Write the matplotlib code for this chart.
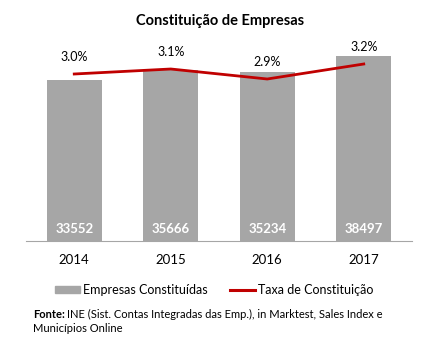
import matplotlib
matplotlib.use("Agg")
import matplotlib.pyplot as plt
from matplotlib.patches import Patch
from matplotlib.lines import Line2D

years = ["2014", "2015", "2016", "2017"]
empresas = [33552, 35666, 35234, 38497]
taxa = [3.0, 3.1, 2.9, 3.2]
taxa_labels = ["3.0%", "3.1%", "2.9%", "3.2%"]

plt.rcParams['font.family'] = ['Lato', 'DejaVu Sans']

W, H = 439, 342
fig = plt.figure(figsize=(W/100, H/100), dpi=100)
ax = fig.add_axes([26/W, (H-241)/H, 386/W, 201/H])
x = list(range(len(years)))
ax.bar(x, empresas, width=0.57, color="#A6A6A6", zorder=2)
ax.set_xlim(-0.5, 3.5)
ax.set_ylim(0, 201*33552/161)
for s in ["top", "right", "left"]:
    ax.spines[s].set_visible(False)
ax.spines["bottom"].set_color("#A6A6A6")
ax.set_yticks([])
ax.set_xticks(x)
ax.set_xticklabels(years, fontsize=9.5)
ax.tick_params(axis="x", length=0, pad=9)
for xi, v in zip(x, empresas):
    ax.text(xi, 2500, str(v), ha="center", va="center", color="white",
            fontsize=9.5, fontweight="bold", zorder=3)

ax2 = ax.twinx()
ax2.set_ylim(3.0 - 167/50, 3.0 + 34/50)
ax2.plot(x, taxa, color="#C00000", lw=2.0, zorder=4)
ax2.axis("off")
for xi, v, lab in zip(x, taxa, taxa_labels):
    ax2.annotate(lab, (xi, v), xytext=(0, 12), textcoords="offset points",
                 ha="center", va="center", fontsize=9)

fig.text(220/W, 1-21/H, "Constituição de Empresas", ha="center", va="center",
         fontsize=10.5, fontweight="bold")

handles = [Patch(color="#A6A6A6"), Line2D([0], [0], color="#C00000", lw=2.2)]
fig.legend(handles, ["Empresas Constituídas", "Taxa de Constituição"],
           loc="center", bbox_to_anchor=(214/W, 1-290/H), ncol=2, frameon=False,
           fontsize=9, handlelength=2.0, handleheight=0.55, columnspacing=1.8,
           handletextpad=0.25)

fig.text(33/W, 1-314/H, "Fonte:", fontsize=8, fontweight="bold", va="center")
fig.text(67/W, 1-314/H, "INE (Sist. Contas Integradas das Emp.), in Marktest, Sales Index e",
         fontsize=8, va="center")
fig.text(33/W, 1-329/H, "Municípios Online", fontsize=8, va="center")

fig.savefig("out.png", dpi=100)
